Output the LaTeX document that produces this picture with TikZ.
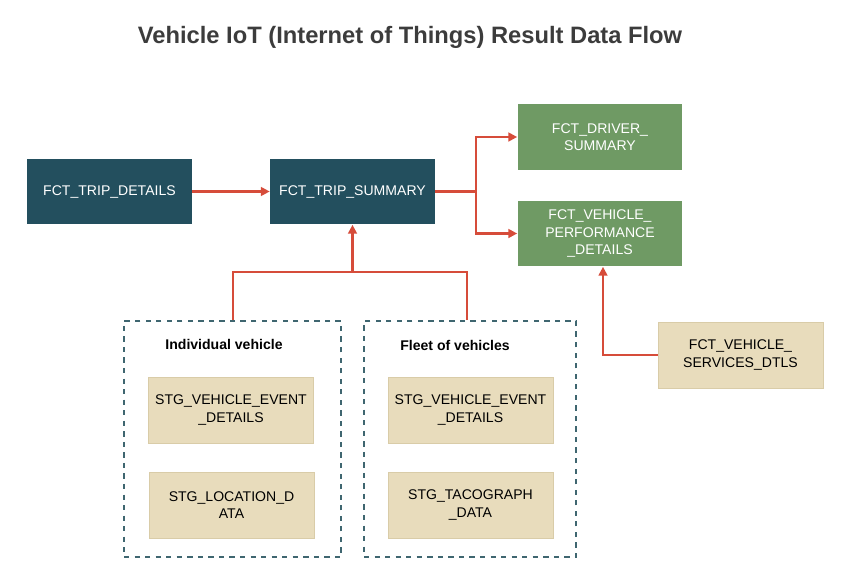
\documentclass[tikz,border=0pt]{standalone}
\usepackage{fontspec}
\setmainfont{Liberation Sans}
\usetikzlibrary{arrows.meta}
\definecolor{teal}{HTML}{234F5E}
\definecolor{grn}{HTML}{6F9A64}
\definecolor{beige}{HTML}{E8DCBC}
\definecolor{bbord}{HTML}{D9CCA8}
\definecolor{redc}{HTML}{D64C3A}
\definecolor{dash}{HTML}{3F6670}
\definecolor{ttl}{HTML}{3C3C3C}
\begin{document}
\begin{tikzpicture}[x=0.02cm,y=-0.02cm,
  base/.style={minimum width=3.3cm,minimum height=1.32cm,align=center,font=\fontsize{8}{10}\selectfont,inner sep=1pt},
  dk/.style={base,fill=teal,text=white},
  gr/.style={base,fill=grn,text=white},
  bg/.style={base,fill=beige,draw=bbord,text=black},
  grp/.style={draw=dash,dashed,thick,minimum width=4.3cm,minimum height=4.72cm},
  arr/.style={draw=redc,line width=1.2pt,-{Triangle[length=5pt,width=5pt]}},
  ln/.style={draw=redc,line width=1.2pt}]
\useasboundingbox (0,0) rectangle (854,571);
\node[font=\bfseries\fontsize{13.5}{16}\selectfont,text=ttl] (title) at (410,37) {Vehicle IoT (Internet of Things) Result Data Flow};
\node[dk] (td) at (109.5,191.5) {FCT\_TRIP\_DETAILS};
\node[dk] (ts) at (352.5,191.5) {FCT\_TRIP\_SUMMARY};
\node[gr] (ds) at (600,137) {FCT\_DRIVER\_\\SUMMARY};
\node[gr] (vp) at (600,233.5) {FCT\_VEHICLE\_\\PERFORMANCE\\\_DETAILS};
\node[bg] (vs) at (740.5,355) {FCT\_VEHICLE\_\\SERVICES\_DTLS};
\node[grp,minimum width=4.34cm] (g1) at (232.5,439) {};
\node[grp,minimum width=4.24cm] (g2) at (470,439) {};
\node[font=\bfseries\fontsize{8}{10}\selectfont] (l1) at (224,344) {Individual vehicle};
\node[font=\bfseries\fontsize{8}{10}\selectfont] (l2) at (455,345) {Fleet of vehicles};
\node[bg] (b1) at (231,410) {STG\_VEHICLE\_EVENT\\\_DETAILS};
\node[bg] (b2) at (231.5,505) {STG\_LOCATION\_D\\ATA};
\node[bg] (b3) at (470.5,410) {STG\_VEHICLE\_EVENT\\\_DETAILS};
\node[bg] (b4) at (470.5,505) {STG\_TACOGRAPH\\\_DATA};
\coordinate (j) at (476,191.5);
\coordinate (m) at (352.5,272);
\draw[arr] (td) -- (ts);
\draw[ln] (ts.east) -- (j);
\draw[arr] (j) |- (ds.west);
\draw[arr] (j) |- (vp.west);
\draw[ln] (g1.north -| 233,0) |- (467,272) -- (g2.north -| 467,0);
\draw[arr] (m) -- (ts.south);
\draw[arr] (vs.west) -| (vp.south -| 603,0);
\end{tikzpicture}
\end{document}
